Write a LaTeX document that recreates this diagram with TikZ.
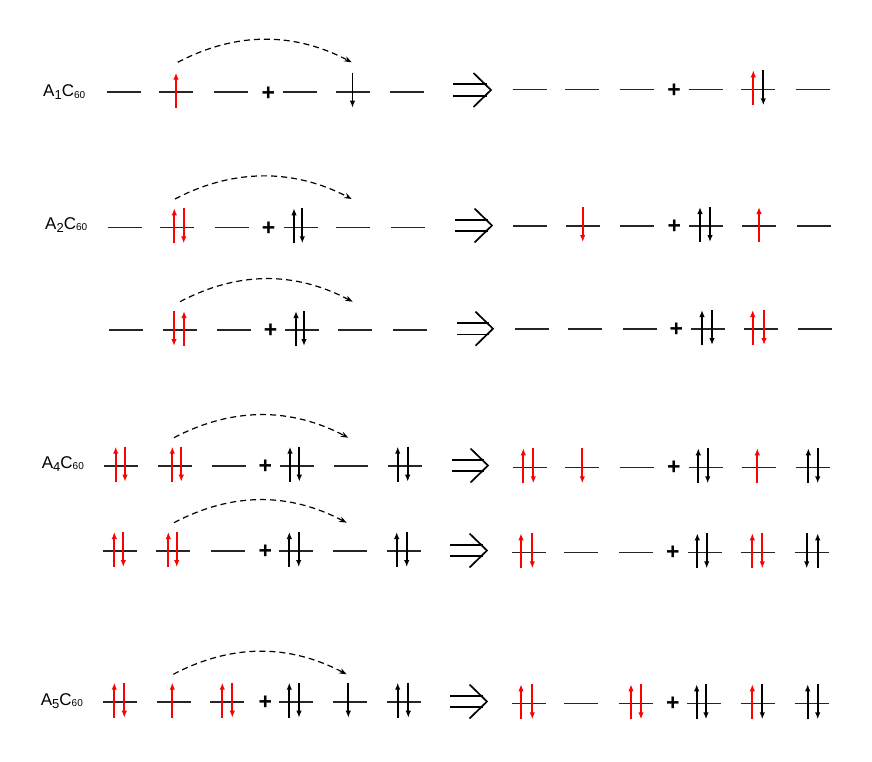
\documentclass[tikz,border=0pt]{standalone}
\usepackage{fontspec}
\setmainfont{Liberation Sans}
\usetikzlibrary{arrows.meta,calc}
\definecolor{spinred}{RGB}{255,0,0}
\newcommand\mylev[2]{\draw[lvl] (#1-17,#2) -- (#1+17,#2);}
\newcommand\spinup[3]{\draw[spin,#3] (#1,#2+16) -- (#1,#2-19);}
\newcommand\spindn[3]{\draw[spin,#3] (#1,#2-19) -- (#1,#2+16);}
\newcommand\hoparc[4]{\coordinate (#1s) at (#2,#4); \coordinate (#1e) at (#3,#4);
  \draw[hopline] (#1s) .. controls ($(#1s)+(58,-30.5)$) and ($(#1e)+(-58,-30.5)$) .. (#1e);}
\newcommand\dblarr[4]{\coordinate (#1) at (#3,#4);
  \draw[dbl] ($(#1)+(#2-#3,-5.7)$) -- ($(#1)+(-4,-5.7)$) ($(#1)+(#2-#3,5.7)$) -- ($(#1)+(-4,5.7)$);
  \draw[dbl] ($(#1)+(-17.5,-17)$) -- (#1) -- ($(#1)+(-17.5,17)$);}
\newcommand\clab[4]{\node[lab] (#1) at (#2,#3) {A\raisebox{-3pt}{\fontsize{13}{13}\selectfont #4}C\raisebox{-1.5pt}{\fontsize{10}{10}\selectfont 60}};}
\begin{document}
\begin{tikzpicture}[x=1pt,y=-1pt,
  lvl/.style={line width=1.6pt, black!85},
  spin/.style={line width=1.7pt,-{Latex[length=7pt,width=5.5pt]}},
  rd/.style={spinred}, bk/.style={black},
  hopline/.style={line width=1.2pt,dash pattern=on 6pt off 4pt,-{Stealth[length=7.5pt,width=5.5pt]}},
  dbl/.style={line width=1.7pt},
  pl/.style={font=\fontsize{23}{23}\selectfont\bfseries, inner sep=0pt},
  lab/.style={anchor=base west, inner sep=0pt, font=\fontsize{17}{18}\selectfont}]
\useasboundingbox (0,0) rectangle (872,761);

% ---------- Row 1: A1C60
\clab{l1}{43}{96.7}{1}
\foreach \x in {124,176,231,299.5,352.5,407} {\mylev{\x}{91.7}}
\node[pl] (p1a) at (268.3,93.3) {+};
\spinup{176}{91.7}{rd}
\spindn{352.5}{91.7}{bk}
\hoparc{h1}{177.7}{351.7}{62.3}
\dblarr{d1}{453}{491}{90}
\foreach \x in {529.5,582,636.5,705.5,758,813} {\mylev{\x}{89.3}}
\node[pl] (p1b) at (674.2,91) {+};
\spinup{753.3}{89.3}{rd}
\spindn{763.3}{89.3}{bk}

% ---------- Row 2: A2C60
\clab{l2}{45}{229.3}{2}
\foreach \x in {124.5,177,231.5,300.5,353,408} {\mylev{\x}{227.3}}
\node[pl] (p2a) at (268.7,228.3) {+};
\spinup{174.3}{227.3}{rd}
\spindn{183.7}{227.3}{rd}
\spinup{294}{227.3}{bk}
\spindn{302.3}{227.3}{bk}
\hoparc{h2}{175}{351.7}{199}
\dblarr{d2}{455}{492}{225.5}
\foreach \x in {530,583,637,706,759,813.5} {\mylev{\x}{226}}
\node[pl] (p2b) at (674.3,226.8) {+};
\spindn{582.7}{226}{rd}
\spinup{700}{226}{bk}
\spindn{710}{226}{bk}
\spinup{759}{226}{rd}

% ---------- Row 3
\foreach \x in {126,179.5,234,302,355,409.5} {\mylev{\x}{330}}
\node[pl] (p3a) at (270.5,330.8) {+};
\spindn{174}{330}{rd}
\spinup{184}{330}{rd}
\spinup{296}{330}{bk}
\spindn{304}{330}{bk}
\hoparc{h3}{180}{352.7}{301.7}
\dblarr{d3}{457}{493}{328.7}
\foreach \x in {531.5,584.5,639.5,707.5,760.5,815} {\mylev{\x}{329}}
\node[pl] (p3b) at (676.3,329.8) {+};
\spinup{702}{329}{bk}
\spindn{712}{329}{bk}
\spinup{752.7}{329}{rd}
\spindn{764}{329}{rd}

% ---------- Row 4: A4C60
\clab{l4}{41.7}{468.3}{4}
\foreach \x in {121,174.5,228.5,297,350.5,404.5} {\mylev{\x}{465.7}}
\node[pl] (p4a) at (265.3,467) {+};
\spinup{115.7}{465.7}{rd}
\spindn{125}{465.7}{rd}
\spinup{172.3}{465.7}{rd}
\spindn{181.3}{465.7}{rd}
\spinup{290}{465.7}{bk}
\spindn{299.3}{465.7}{bk}
\spinup{397.7}{465.7}{bk}
\spindn{407.7}{465.7}{bk}
\hoparc{h4}{174}{348.3}{437.7}
\dblarr{d4}{452}{488}{465.5}
\foreach \x in {529.5,582,636.5,705.5,758.5,813} {\mylev{\x}{467.3}}
\node[pl] (p4b) at (673.8,467.8) {+};
\spinup{523.3}{467.3}{rd}
\spindn{533.3}{467.3}{rd}
\spindn{582.3}{467.3}{rd}
\spinup{698.3}{467.3}{bk}
\spindn{707.7}{467.3}{bk}
\spinup{757.3}{467.3}{rd}
\spinup{808.3}{467.3}{bk}
\spindn{817.7}{467.3}{bk}

% ---------- Row 5
\foreach \x in {120,173.3,227.5,296,349.5,403.5} {\mylev{\x}{551}}
\node[pl] (p5a) at (265.3,552) {+};
\spinup{114.3}{551}{rd}
\spindn{123.3}{551}{rd}
\spinup{168.3}{551}{rd}
\spindn{176.7}{551}{rd}
\spinup{289.3}{551}{bk}
\spindn{298.7}{551}{bk}
\spinup{396.7}{551}{bk}
\spindn{406.7}{551}{bk}
\hoparc{h5}{174}{346.7}{522.7}
\dblarr{d5}{450}{487}{550.5}
\foreach \x in {528.5,581,636,704.5,757.5,811.5} {\mylev{\x}{552.3}}
\node[pl] (p5b) at (672.8,553) {+};
\spinup{521}{552.3}{rd}
\spindn{532.3}{552.3}{rd}
\spinup{697.3}{552.3}{bk}
\spindn{706.7}{552.3}{bk}
\spinup{752.3}{552.3}{rd}
\spindn{762.3}{552.3}{rd}
\spindn{806.7}{552.3}{bk}
\spinup{817.7}{552.3}{bk}

% ---------- Row 6: A5C60
\clab{l6}{40.7}{705}{5}
\foreach \x in {120,173.5,227,296,349.5,404} {\mylev{\x}{701.7}}
\node[pl] (p6a) at (265.3,702.8) {+};
\spinup{114.3}{701.7}{rd}
\spindn{124.3}{701.7}{rd}
\spinup{172.3}{701.7}{rd}
\spinup{222.3}{701.7}{rd}
\spindn{232.3}{701.7}{rd}
\spinup{289.3}{701.7}{bk}
\spindn{299}{701.7}{bk}
\spindn{348.3}{701.7}{bk}
\spinup{397.7}{701.7}{bk}
\spindn{408.3}{701.7}{bk}
\hoparc{h6}{173.3}{346.7}{674.3}
\dblarr{d6}{450}{487}{701.5}
\foreach \x in {528.5,581,635.5,704,757.5,811.5} {\mylev{\x}{703.3}}
\node[pl] (p6b) at (672.8,703.8) {+};
\spinup{521}{703.3}{rd}
\spindn{532.3}{703.3}{rd}
\spinup{631}{703.3}{rd}
\spindn{641}{703.3}{rd}
\spinup{696.7}{703.3}{bk}
\spindn{706}{703.3}{bk}
\spinup{752.3}{703.3}{rd}
\spindn{762.3}{703.3}{bk}
\spinup{807.7}{703.3}{bk}
\spindn{817.7}{703.3}{bk}
\end{tikzpicture}
\end{document}
